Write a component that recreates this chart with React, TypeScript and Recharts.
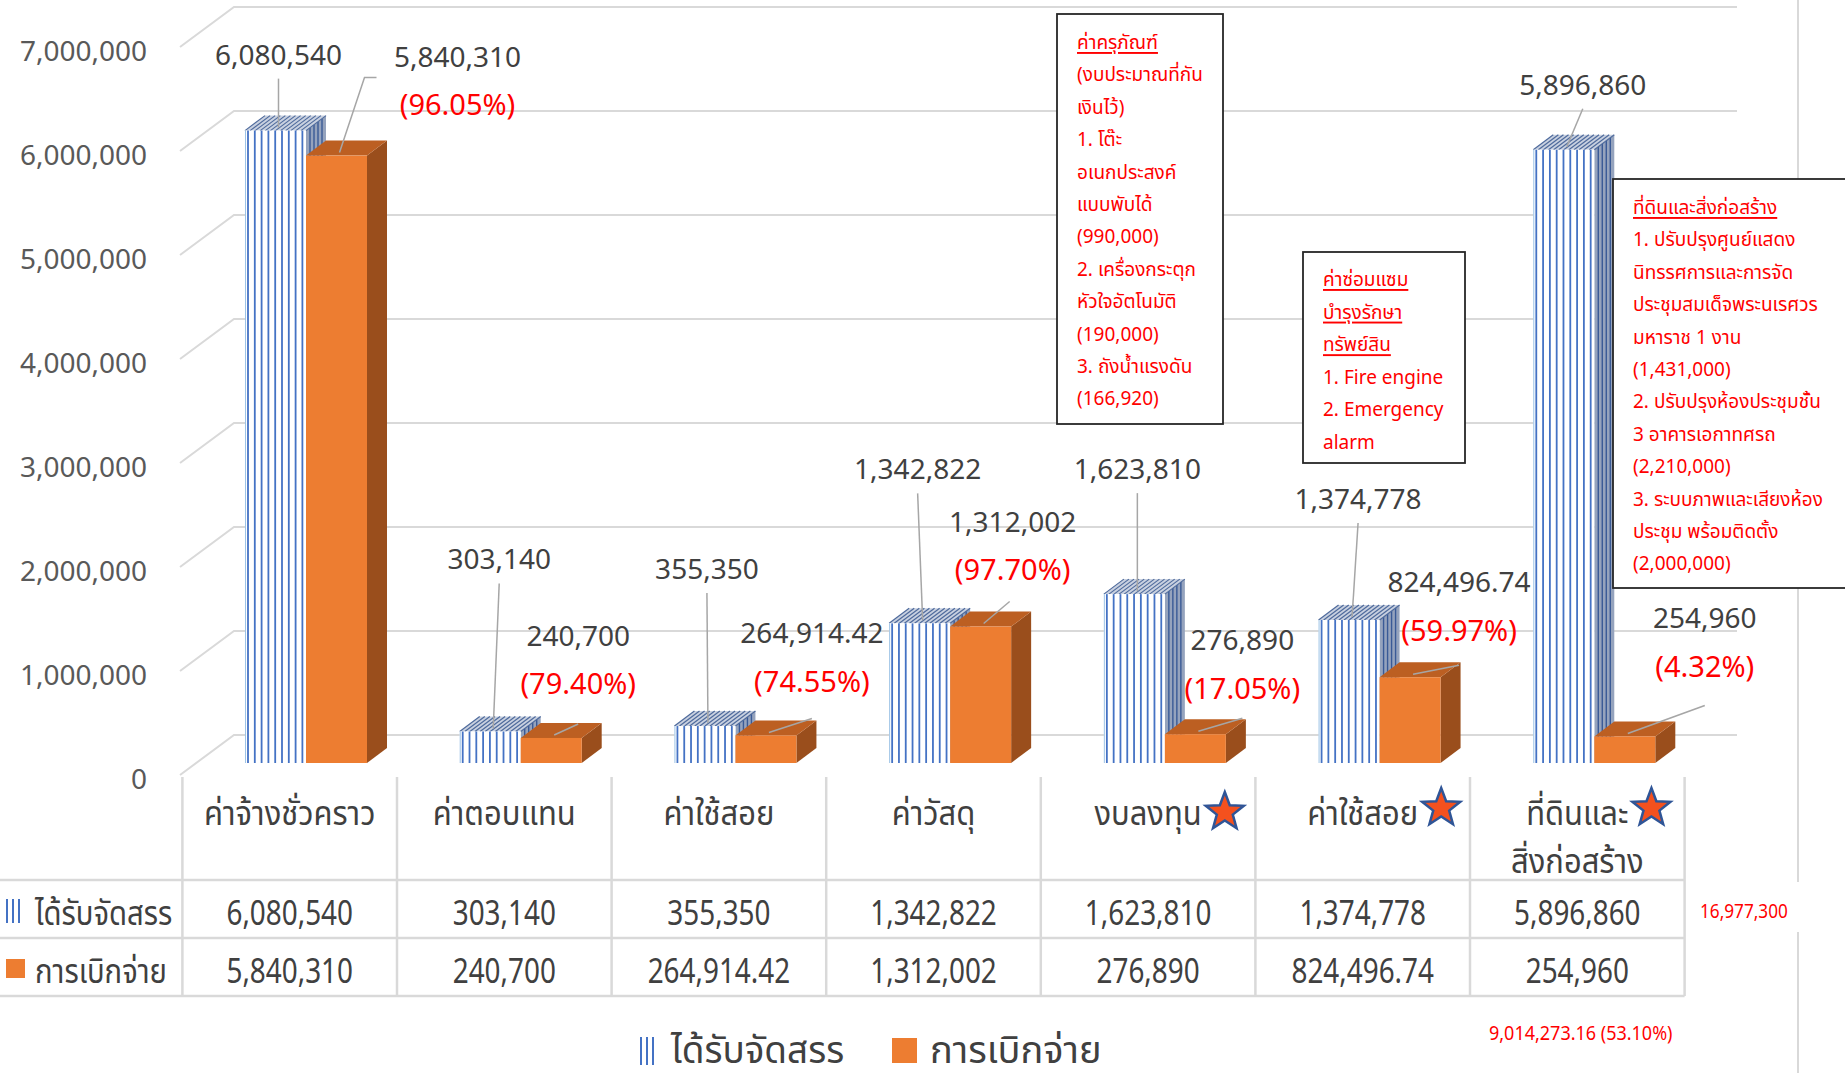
import React from "react";
import { BarChart, Bar, XAxis, YAxis, CartesianGrid } from "recharts";

// หมวดรายจ่าย (แกน X) และค่าของแต่ละชุดข้อมูล
const categories = ["ค่าจ้างชั่วคราว", "ค่าตอบแทน", "ค่าใช้สอย", "ค่าวัสดุ", "งบลงทุน", "ค่าใช้สอย", "ที่ดินและสิ่งก่อสร้าง"];
const categoryLines = [["ค่าจ้างชั่วคราว"], ["ค่าตอบแทน"], ["ค่าใช้สอย"], ["ค่าวัสดุ"], ["งบลงทุน"], ["ค่าใช้สอย"], ["ที่ดินและ", "สิ่งก่อสร้าง"]];
const starred = [false, false, false, false, true, true, true];
const allocated = [6080540, 303140, 355350, 1342822, 1623810, 1374778, 5896860];
const disbursed = [5840310, 240700, 264914.42, 1312002, 276890, 824496.74, 254960];
const yTicks = [0, 1000000, 2000000, 3000000, 4000000, 5000000, 6000000, 7000000];
const seriesNames = ["ได้รับจัดสรร", "การเบิกจ่าย"];

// ตำแหน่งป้ายค่า เทียบกับกึ่งกลางขอบบนของแท่ง (px)
const allocatedLabelOffset = [[3, -77], [9, -173], [2, -158], [-2, -155], [3, -126], [9, -122], [19, -66]];
const disbursedLabelOffset = [[121, -100], [27, -103], [46, -103], [32, -106], [47, -95], [49, -96], [80, -119]];
const disbursedLeaderStart = [[-81, 22], [0, 89], [0, 86], [-3, 81], [0, 79], [0, 84], [0, 88]];
const disbursedLeaderElbow = [12, 0, 0, 0, 0, 0, 0];

// กล่องหมายเหตุ
const noteEquipment = ["ค่าครุภัณฑ์", "(งบประมาณที่กัน", "เงินไว้)", "1. โต๊ะ", "อเนกประสงค์", "แบบพับได้", "(990,000)", "2. เครื่องกระตุก", "หัวใจอัตโนมัติ", "(190,000)", "3. ถังน้ำแรงดัน", "(166,920)"];
const noteRepair = ["ค่าซ่อมแซม", "บำรุงรักษา", "ทรัพย์สิน", "1. Fire engine", "2. Emergency", "alarm"];
const noteBuilding = ["ที่ดินและสิ่งก่อสร้าง", "1. ปรับปรุงศูนย์แสดง", "นิทรรศการและการจัด", "ประชุมสมเด็จพระนเรศวร", "มหาราช 1 งาน", "(1,431,000)", "2. ปรับปรุงห้องประชุมชั้น", "3 อาคารเอกาทศรถ", "(2,210,000)", "3. ระบบภาพและเสียงห้อง", "ประชุม พร้อมติดตั้ง", "(2,000,000)"];

const data = categories.map((name, i) => ({ name, allocated: allocated[i], disbursed: disbursed[i] }));
const sum = (a: number[]) => a.reduce((s, v) => s + v, 0);
const fmt = (v: number) => v.toLocaleString("en-US", { maximumFractionDigits: 2 });
const pct = (a: number, b: number) => ((a / b) * 100).toFixed(2) + "%";

const W = 1845, H = 1073;
const DX = 20, DY = -15;
const COL_L = 182.4, COL_W = 214.6;
const FONT = "'Noto Sans', 'Noto Sans Thai', sans-serif";
const GRID = "#d9d9d9";

// ความกว้างข้อความ ใช้จัดตำแหน่งดาวท้ายชื่อหมวด
let measureCtx: CanvasRenderingContext2D | null = null;
function textWidth(t: string, size: number) {
  if (!measureCtx) measureCtx = document.createElement("canvas").getContext("2d");
  if (!measureCtx) return t.length * size * 0.5;
  measureCtx.font = `${size}px ${FONT}`;
  return measureCtx.measureText(t).width;
}

// ข้อความแบบบีบแนวนอน (แทนฟอนต์ตัวแคบ)
function Narrow({ x, y, sx, size, fill = "#404040", anchor = "start", children }: any) {
  return (
    <text transform={`translate(${x},${y}) scale(${sx},1)`} textAnchor={anchor} dominantBaseline="central"
      fontSize={size} fill={fill} fontFamily={FONT}>
      {children}
    </text>
  );
}

function BackGrid(p: any) {
  const { x1, x2, y1, index } = p;
  return (
    <path key={"g" + index} d={`M${x1 - 19},${y1 + 12} L${x1 + 35},${y1 - 28} L${x2 + 35},${y1 - 28}`}
      fill="none" stroke={GRID} strokeWidth={2} />
  );
}

function YTick(p: any) {
  const { y, payload } = p;
  return (
    <text x={147} y={y + 15} textAnchor="end" dominantBaseline="central" fontSize={28} fill="#595959" fontFamily={FONT}>
      {fmt(payload.value)}
    </text>
  );
}

function AllocatedBox(p: any) {
  const { x, y, width: w, height: h, index: i } = p;
  if (w == null || h == null) return null;
  const front = [];
  for (let sx = x + 3; sx < x + w - 1; sx += 6.8)
    front.push(<line key={"f" + sx} x1={sx} y1={y} x2={sx} y2={y + h} stroke="#4472C4" strokeWidth={1.8} />);
  const top = [];
  for (let k = 0; k <= 12; k++) {
    const t = k / 12;
    top.push(<line key={"t" + k} x1={x + t * w} y1={y} x2={x + t * w + DX} y2={y + DY} stroke="#4E6A9C" strokeWidth={1.2} />);
  }
  const side = [];
  for (let k = 1; k <= 4; k++) {
    const t = k / 5;
    side.push(<line key={"s" + k} x1={x + w + t * DX} y1={y + t * DY} x2={x + w + t * DX} y2={y + h + t * DY} stroke="#3A5A96" strokeWidth={1.4} />);
  }
  const cx = x + w / 2;
  const [ox, oy] = allocatedLabelOffset[i];
  return (
    <g>
      <polygon points={`${x + w},${y} ${x + w + DX},${y + DY} ${x + w + DX},${y + h + DY} ${x + w},${y + h}`} fill="#95A3BD" />
      {side}
      <polygon points={`${x},${y} ${x + w},${y} ${x + w + DX},${y + DY} ${x + DX},${y + DY}`} fill="#C9D1E0" />
      {top}
      <rect x={x} y={y} width={w} height={h} fill="#fff" />
      {front}
      <line x1={x + 0.5} y1={y} x2={x + 0.5} y2={y + h} stroke="#9DC3E6" strokeWidth={1} />
      <line x1={cx + ox} y1={y + oy + 25} x2={cx + 3} y2={y - 3} stroke="#a6a6a6" strokeWidth={1.5} />
      <text x={cx + ox} y={y + oy} textAnchor="middle" dominantBaseline="central" fontSize={28} fill="#404040" fontFamily={FONT}>
        {fmt(allocated[i])}
      </text>
    </g>
  );
}

function DisbursedBox(p: any) {
  const { x, y, width: w, height: h, index: i } = p;
  if (w == null || h == null) return null;
  const cx = x + w / 2;
  const [ox, oy] = disbursedLabelOffset[i];
  const [lx, ly] = disbursedLeaderStart[i];
  const sx = cx + ox + lx, sy = y + oy + ly;
  const el = disbursedLeaderElbow[i];
  return (
    <g>
      <polygon points={`${x + w},${y} ${x + w + DX},${y + DY} ${x + w + DX},${y + h + DY} ${x + w},${y + h}`} fill="#9A4E1C" />
      <polygon points={`${x},${y} ${x + w},${y} ${x + w + DX},${y + DY} ${x + DX},${y + DY}`} fill="#BC5F22" />
      <rect x={x} y={y} width={w} height={h} fill="#ED7D31" />
      <polyline points={`${sx},${sy} ${sx - el},${sy} ${cx + 3},${y - 3}`} fill="none" stroke="#a6a6a6" strokeWidth={1.5} />
      <text x={cx + ox} y={y + oy} textAnchor="middle" dominantBaseline="central" fontSize={28} fill="#404040" fontFamily={FONT}>
        {fmt(disbursed[i])}
      </text>
      <text x={cx + ox} y={y + oy + 48} textAnchor="middle" dominantBaseline="central" fontSize={29} fill="#FF0000" fontFamily={FONT}>
        ({pct(disbursed[i], allocated[i])})
      </text>
    </g>
  );
}

function Star({ cx, cy, r = 20 }: { cx: number; cy: number; r?: number }) {
  const pts = [];
  for (let k = 0; k < 10; k++) {
    const rr = k % 2 === 0 ? r : r * 0.42;
    const a = -Math.PI / 2 + (k * Math.PI) / 5;
    pts.push(`${cx + rr * Math.cos(a)},${cy + rr * Math.sin(a)}`);
  }
  return <polygon points={pts.join(" ")} fill="#F4511E" stroke="#2F5597" strokeWidth={2.5} />;
}

function NoteBox({ x, y, w, h, lines, underline, lineY, step }: any) {
  return (
    <g>
      <rect x={x} y={y} width={w} height={h} fill="#fff" stroke="#262626" strokeWidth={1.8} />
      {lines.map((t: string, k: number) => (
        <text key={k} x={x + 20} y={lineY + k * step} dominantBaseline="central" fontSize={19} fill="#FF0000"
          fontFamily={FONT} textDecoration={k < underline ? "underline" : undefined}>
          {t}
        </text>
      ))}
    </g>
  );
}

const tableRows = [
  { name: seriesNames[0], values: allocated, y: 912 },
  { name: seriesNames[1], values: disbursed, y: 970 },
];

const HEAD_SIZE = 34, HEAD_SX = 0.91;

export default function App() {
  const cols = categories.map((_, i) => COL_L + i * COL_W);
  const tableRight = COL_L + categories.length * COL_W;
  return (
    <div style={{ position: "absolute", left: 0, top: 0, width: W, height: H, background: "#fff", overflow: "hidden" }}>
      <BarChart width={W} height={H} data={data} barGap={0}
        margin={{ top: 35, right: 143, bottom: 310, left: 139 }}>
        <CartesianGrid vertical={false} horizontal={BackGrid} />
        <XAxis dataKey="name" hide />
        <YAxis type="number" domain={[0, 7000000]} ticks={yTicks} interval={0} width={60}
          axisLine={false} tickLine={false} tick={YTick} />
        <Bar dataKey="allocated" barSize={61} shape={AllocatedBox} isAnimationActive={false} />
        <Bar dataKey="disbursed" barSize={61} shape={DisbursedBox} isAnimationActive={false} />
      </BarChart>

      <svg width={W} height={H} style={{ position: "absolute", left: 0, top: 0, pointerEvents: "none" }}>
        {/* ตารางข้อมูลใต้กราฟ */}
        {[...cols, tableRight].map((cx, k) => (
          <line key={"v" + k} x1={cx} y1={777} x2={cx} y2={996} stroke={GRID} strokeWidth={2.5} />
        ))}
        {[880, 938, 996].map((ly) => (
          <line key={"h" + ly} x1={0} y1={ly} x2={tableRight} y2={ly} stroke={GRID} strokeWidth={2.5} />
        ))}
        {categoryLines.map((ls, i) =>
          ls.map((t, k) => {
            const star = k === 0 && starred[i];
            const tw = textWidth(t, HEAD_SIZE) * HEAD_SX;
            const mid = cols[i] + COL_W / 2;
            const y = 812 + k * 48;
            return (
              <g key={"c" + i + k}>
                <Narrow x={mid} y={y} sx={HEAD_SX} size={HEAD_SIZE} anchor="middle">{t}</Narrow>
                {star ? <Star cx={mid + tw / 2 + 23} cy={i === 4 ? y : y - 4} /> : null}
              </g>
            );
          })
        )}
        {tableRows.map((r) =>
          r.values.map((v, i) => (
            <Narrow key={r.name + i} x={cols[i] + COL_W / 2} y={r.y} sx={0.82} size={34} anchor="middle">
              {fmt(v)}
            </Narrow>
          ))
        )}
        {[7, 13, 19].map((lx) => (
          <line key={"m" + lx} x1={lx} y1={899} x2={lx} y2={923} stroke="#4472C4" strokeWidth={2} />
        ))}
        <rect x={6} y={959} width={19} height={19} fill="#ED7D31" />
        {tableRows.map((r) => (
          <Narrow key={"n" + r.name} x={35} y={r.y} sx={0.86} size={34}>{r.name}</Narrow>
        ))}

        {/* ยอดรวม */}
        <Narrow x={1700} y={910} sx={0.86} size={20} fill="#FF0000">{fmt(sum(allocated))}</Narrow>
        <Narrow x={1489} y={1033} sx={0.9} size={20} fill="#FF0000">
          {fmt(sum(disbursed))} ({pct(sum(disbursed), sum(allocated))})
        </Narrow>
        <line x1={1798} y1={0} x2={1798} y2={882} stroke={GRID} strokeWidth={2} />
        <line x1={1798} y1={932} x2={1798} y2={H} stroke={GRID} strokeWidth={2} />

        {/* คำอธิบายสัญลักษณ์ */}
        {[641, 647, 653].map((lx) => (
          <line key={"l" + lx} x1={lx} y1={1037} x2={lx} y2={1065} stroke="#4472C4" strokeWidth={2} />
        ))}
        <Narrow x={671} y={1048} sx={0.97} size={38}>{seriesNames[0]}</Narrow>
        <rect x={892} y={1038} width={25} height={25} fill="#ED7D31" />
        <Narrow x={930} y={1048} sx={1.0} size={38}>{seriesNames[1]}</Narrow>

        <NoteBox x={1057} y={14} w={166} h={410} lines={noteEquipment} underline={1} lineY={42} step={32.4} />
        <NoteBox x={1303} y={252} w={162} h={211} lines={noteRepair} underline={3} lineY={279} step={32.6} />
        <NoteBox x={1613} y={179} w={250} h={409} lines={noteBuilding} underline={1} lineY={207} step={32.4} />
      </svg>
    </div>
  );
}
